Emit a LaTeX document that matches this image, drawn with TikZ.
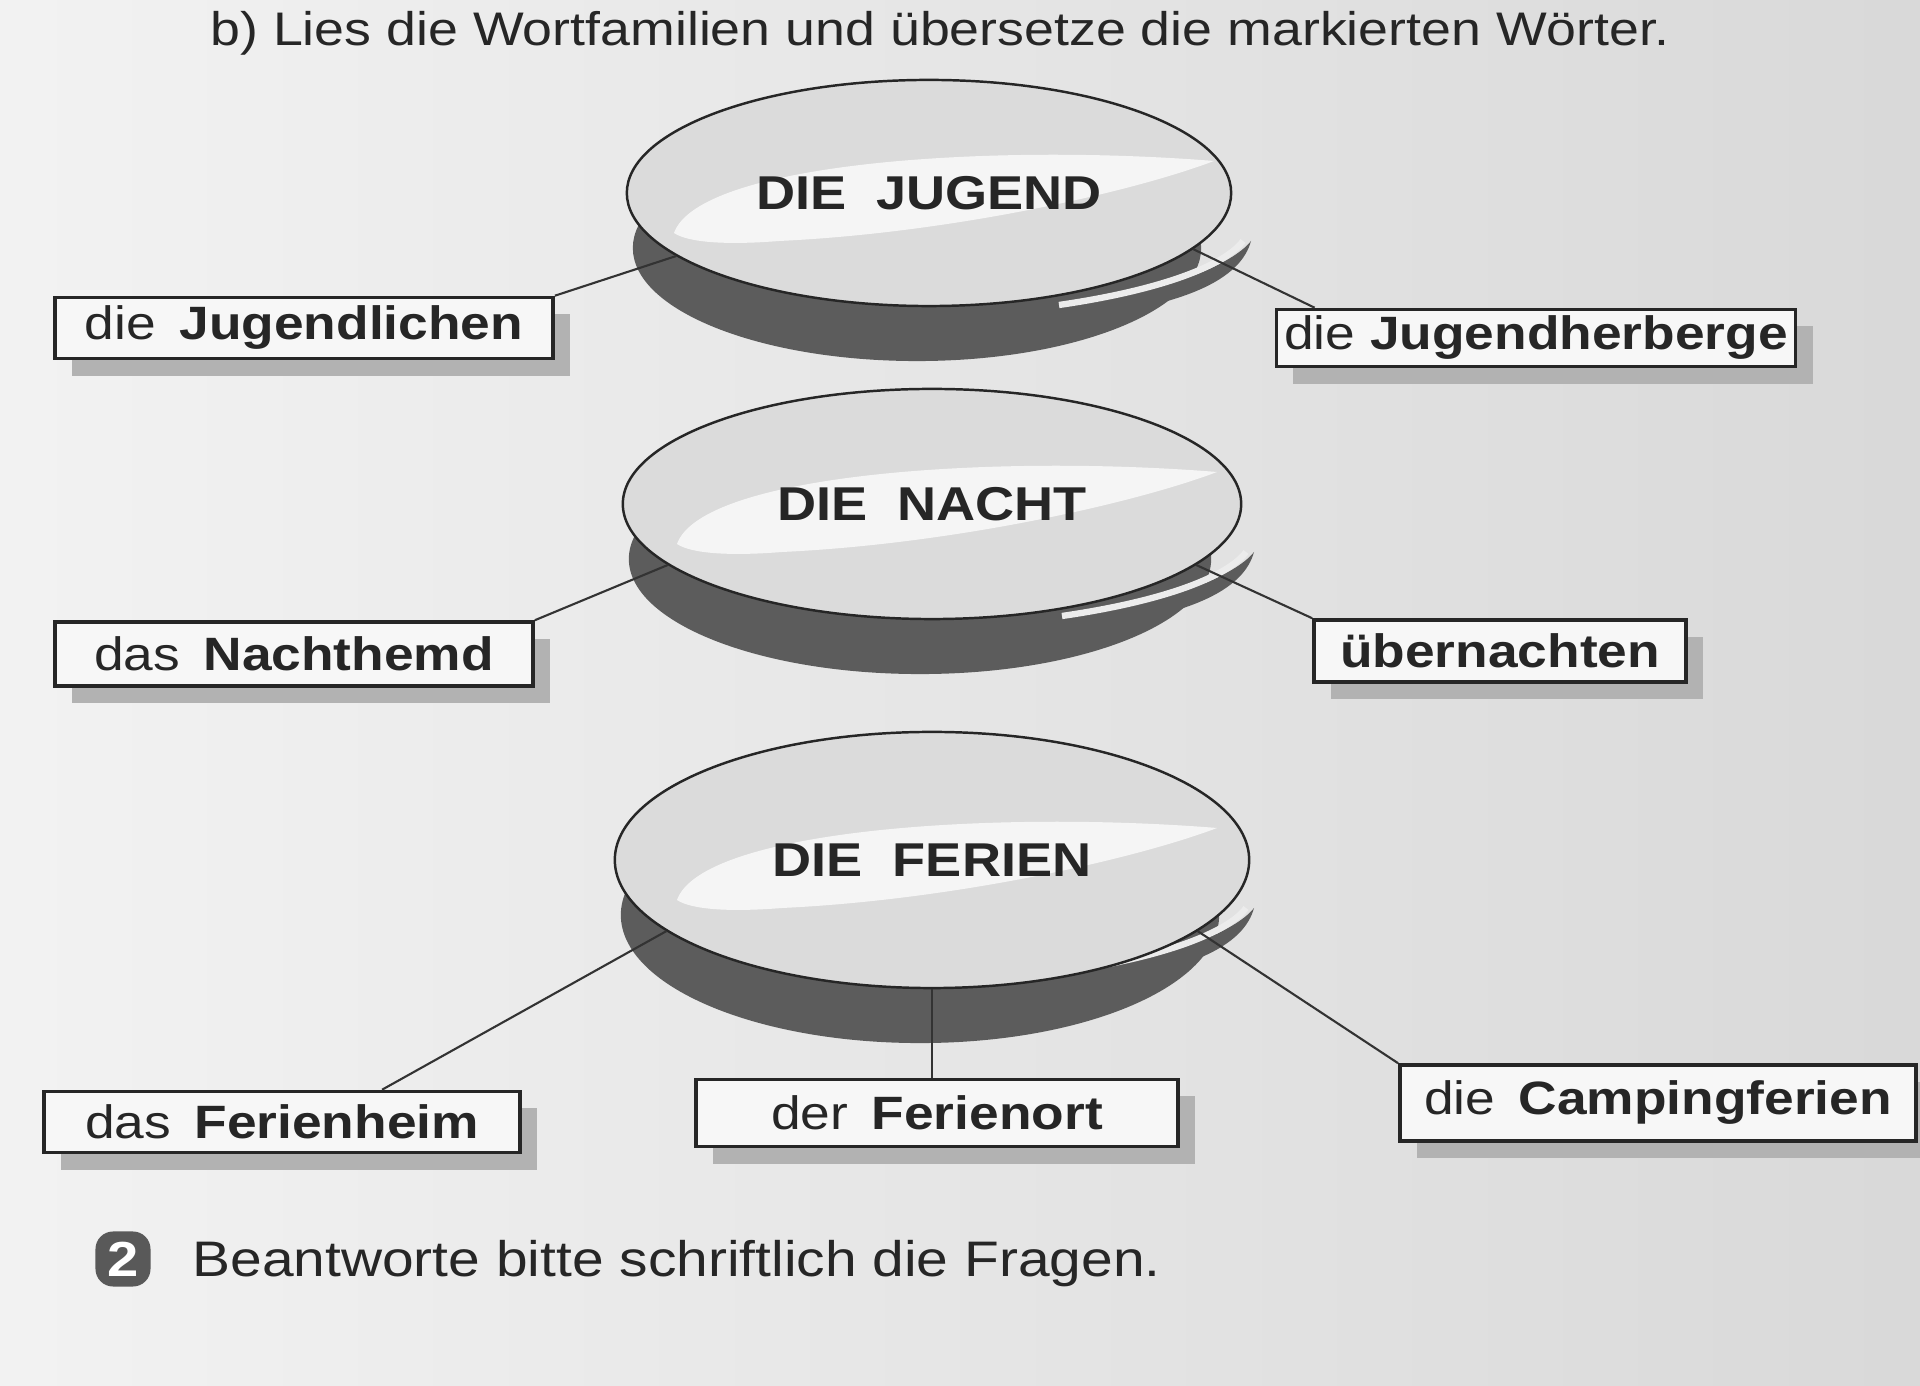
\documentclass[tikz,border=0pt]{standalone}
\usepackage{fontspec}
\setmainfont{Liberation Sans}[FakeStretch=1.14]
\usetikzlibrary{shapes.geometric,shadows}

\begin{document}
\begin{tikzpicture}
[x=0.01cm,y=-0.01cm]
\tikzstyle{topic}=[ellipse,draw=black!85,line width=0.7pt,fill=gray!28,inner sep=0]
\tikzstyle{topic shadow}=[fill=black!64]
\tikzstyle{topic label}=[font=\fontsize{13.5}{16}\selectfont\bfseries,text=black!85]
\tikzstyle{word box}=[rectangle,draw=black!85,line width=1pt,fill=gray!6,inner sep=0,
  font=\fontsize{13.3}{16}\selectfont,text=black!85,
  drop shadow={shadow xshift=0.17cm,shadow yshift=-0.17cm,fill=gray!60,opacity=1,rounded corners=6pt}]
\tikzstyle{link}=[line width=0.6pt,black!80]

\useasboundingbox (0,0) rectangle (1920,1386);
\shade[left color=gray!10,right color=gray!30] (0,0) rectangle (1920,1386);

% header
\node(title)[anchor=base,font=\fontsize{13.4}{16}\selectfont,text=black!85] at (940,46)
  {b)\ Lies die Wortfamilien und übersetze die markierten Wörter.};

% the three topics
\foreach \n/\cx/\cy/\w/\h in {jugend/929/193/6.04/2.26,nacht/932/504/6.18/2.30,ferien/932/860/6.34/2.56}{
  \fill[topic shadow] (\cx-12,\cy+55) ellipse [x radius={(\w/2-0.18)*1cm},y radius={\h/2*1cm}];
  \begin{scope}[shift={(\cx,\cy)}]
    \fill[topic shadow] (120,118) .. controls (240,100) and (305,70) .. (322,48)
      .. controls (312,85) and (260,115) .. (120,128) -- cycle;
    \draw[gray!15,line width=1.8pt] (130,112) .. controls (240,96) and (298,70) .. (314,48);
  \end{scope}
  \node(\n)[topic,minimum width=\w cm,minimum height=\h cm] at (\cx,\cy){};
  \begin{scope}[shift={(\cx,\cy)}]
    \fill[white,opacity=0.75] (-255,40) .. controls (-230,-30) and (60,-50) .. (285,-32)
      .. controls (200,0) and (20,40) .. (-150,48) .. controls (-200,52) and (-240,50) .. (-255,40);
  \end{scope}
}

\node[topic label]at(jugend){DIE\ \ JUGEND};
\node[topic label]at(nacht){DIE\ \ NACHT};
\node[topic label]at(ferien){DIE\ \ FERIEN};

% word boxes
\node(jl)[word box,minimum width=4.98cm,minimum height=0.61cm] at (304,328){die\enspace\textbf{Jugendlichen}};
\node(jh)[word box,minimum width=5.19cm,minimum height=0.57cm] at (1536,338){die\ \textbf{Jugendherberge}};
\node(nh)[word box,minimum width=4.78cm,minimum height=0.64cm] at (294,654){das\enspace\textbf{Nachthemd}};
\node(ub)[word box,minimum width=3.72cm,minimum height=0.62cm] at (1500,651){\textbf{übernachten}};
\node(fh)[word box,minimum width=4.76cm,minimum height=0.61cm] at (282,1122){das\enspace\textbf{Ferienheim}};
\node(fo)[word box,minimum width=4.82cm,minimum height=0.67cm] at (937,1113){der\enspace\textbf{Ferienort}};
\node(cf)[word box,minimum width=5.16cm,minimum height=0.76cm] at (1658,1103){die\enspace\textbf{Campingferien}};

\draw[link](jl.north east)--(jugend.194);
\draw[link]([xshift=0.4cm]jh.north west)--(jugend.-12);
\draw[link](nh.north east)--(nacht.193);
\draw[link](ub.north west)--(nacht.-13);
\draw[link]([xshift=1cm]fh.north)--(ferien.195);
\draw[link](ferien.south)--(ferien.south|-fo.north);
\draw[link](cf.north west)--(ferien.-15);

% task 2
\node(num)[fill=black!65,text=white,rounded corners=5pt,inner sep=0,minimum width=0.55cm,
  minimum height=0.55cm,font=\fontsize{14}{16}\selectfont\bfseries] at (123,1259){2};
\node(task)[anchor=base west,font=\fontsize{14.2}{17}\selectfont,text=black!85] at (180,1277)
  {Beantworte bitte schriftlich die Fragen.};
\end{tikzpicture}
\end{document}
